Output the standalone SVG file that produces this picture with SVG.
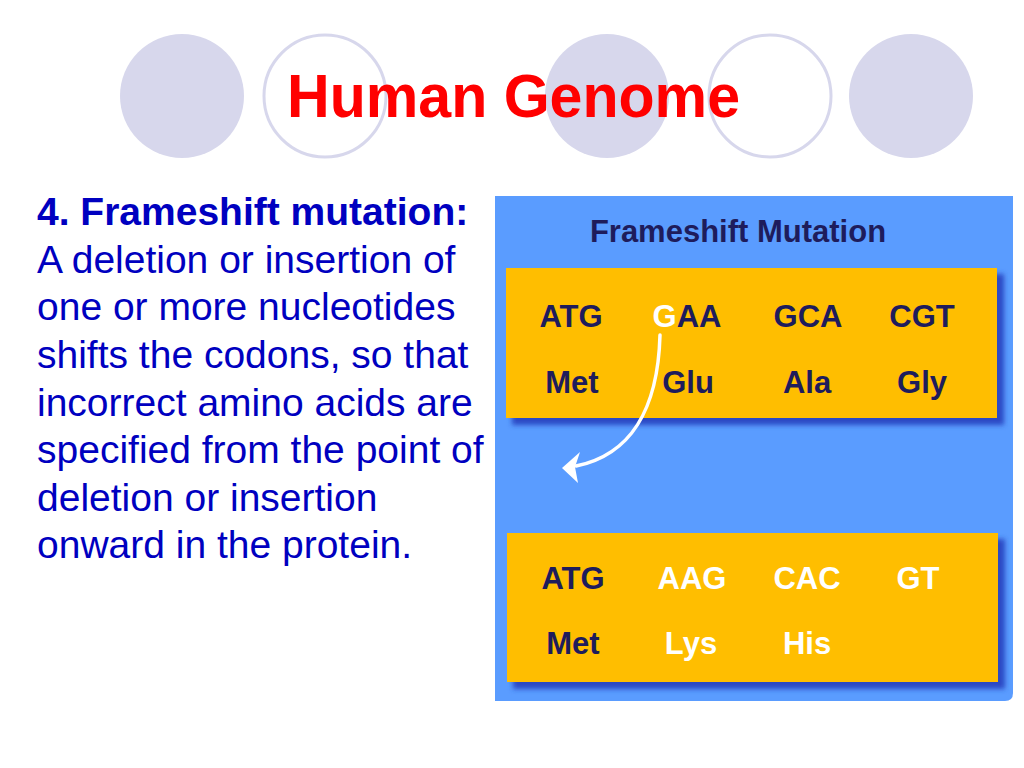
<svg xmlns="http://www.w3.org/2000/svg" width="1024" height="768" viewBox="0 0 1024 768">
  <style>
    .deco-fill { fill: #d7d7ec; }
    .deco-ring { fill: none; stroke: #d7d7ec; stroke-width: 3; }
    .title { font-family: "Liberation Sans", Arial, sans-serif; font-weight: bold; font-size: 62px; fill: #ff0000; }
    .body { font-family: "Liberation Sans", Arial, sans-serif; font-size: 39px; fill: #0000c0; }
    .bold { font-weight: bold; }
    .panel { fill: #5a9cff; }
    .box { fill: #ffbe00; }
    .shadow { fill: #2a48c4; }
    .ptitle { font-family: "Liberation Sans", Arial, sans-serif; font-weight: bold; font-size: 31px; fill: #1e1c5c; text-anchor: middle; }
    .codon { font-family: "Liberation Sans", Arial, sans-serif; font-weight: bold; font-size: 31px; fill: #1e1c5c; text-anchor: middle; }
    .white { fill: #ffffff; }
  </style>
  <defs>
    <filter id="blur" x="-10%" y="-10%" width="120%" height="120%">
      <feGaussianBlur stdDeviation="2.5"/>
    </filter>
  </defs>
  <rect width="1024" height="768" fill="#ffffff"/>

  <g id="decoration">
    <ellipse class="deco-fill" cx="182" cy="96" rx="62" ry="62"/>
    <ellipse class="deco-ring" cx="325" cy="96" rx="61" ry="61"/>
    <ellipse class="deco-fill" cx="607" cy="96" rx="62" ry="62"/>
    <ellipse class="deco-ring" cx="770" cy="96" rx="61" ry="61"/>
    <ellipse class="deco-fill" cx="911" cy="96" rx="62" ry="62"/>
  </g>

  <g id="title">
    <text class="title" x="287" y="117" textLength="453" lengthAdjust="spacingAndGlyphs">Human Genome</text>
  </g>

  <g id="description">
    <text class="body" x="37" y="225"><tspan class="bold">4. Frameshift mutation:</tspan></text>
    <text class="body" x="37" y="273">A deletion or insertion of</text>
    <text class="body" x="37" y="320">one or more nucleotides</text>
    <text class="body" x="37" y="368">shifts the codons, so that</text>
    <text class="body" x="37" y="416">incorrect amino acids are</text>
    <text class="body" x="37" y="463">specified from the point of</text>
    <text class="body" x="37" y="511">deletion or insertion</text>
    <text class="body" x="37" y="558">onward in the protein.</text>
  </g>

  <g id="panel">
    <path class="panel" d="M495,196 H1013 V693 Q1013,701 1005,701 H495 Z"/>
    <text class="ptitle" x="738" y="242">Frameshift Mutation</text>
  </g>

  <g id="original-sequence">
    <rect class="shadow" x="512" y="274" width="492" height="151" filter="url(#blur)"/>
    <rect class="box" x="506" y="268" width="491" height="150"/>
    <text class="codon" x="571" y="327">ATG</text>
    <text class="codon" x="687" y="327"><tspan class="white">G</tspan>AA</text>
    <text class="codon" x="808" y="327">GCA</text>
    <text class="codon" x="922" y="327">CGT</text>
    <text class="codon" x="572" y="393">Met</text>
    <text class="codon" x="688" y="393">Glu</text>
    <text class="codon" x="807" y="393">Ala</text>
    <text class="codon" x="922" y="393">Gly</text>
  </g>

  <g id="mutated-sequence">
    <rect class="shadow" x="513" y="539" width="492" height="150" filter="url(#blur)"/>
    <rect class="box" x="507" y="533" width="491" height="149"/>
    <text class="codon" x="573" y="589">ATG</text>
    <text class="codon white" x="692" y="589">AAG</text>
    <text class="codon white" x="807" y="589">CAC</text>
    <text class="codon white" x="918" y="589">GT</text>
    <text class="codon" x="573" y="654">Met</text>
    <text class="codon white" x="691" y="654">Lys</text>
    <text class="codon white" x="807" y="654">His</text>
  </g>

  <g id="connectors">
    <path d="M660,335 C658,410 630,455 576,466" fill="none" stroke="#ffffff" stroke-width="3.5" stroke-linecap="round"/>
    <polygon points="562,468 580,452 575,467 578,483" fill="#ffffff"/>
  </g>
</svg>
